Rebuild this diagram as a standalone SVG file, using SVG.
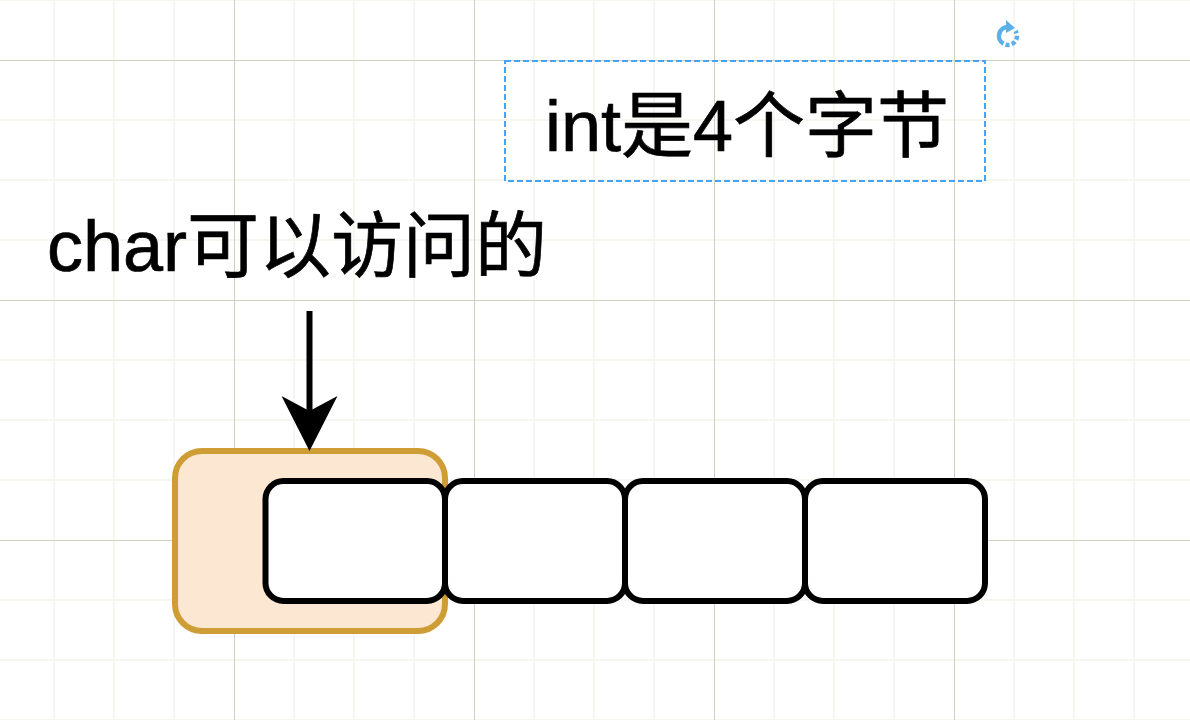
<svg xmlns="http://www.w3.org/2000/svg" width="1190" height="720" viewBox="0 0 1190 720">
<style>
.minor{stroke:#f6f6f1;stroke-width:2;fill:none}
.major{stroke:#d0d0bc;stroke-width:1;fill:none}
.cell{fill:#fff;stroke:#000;stroke-width:6}
.label{font-family:"Liberation Sans","Noto Sans CJK SC",sans-serif;font-size:72px;fill:#000;stroke:#000;stroke-width:.7px}
</style>
<defs>
<marker id="arrow" markerUnits="userSpaceOnUse" viewBox="0 0 56 56" refX="40" refY="28" markerWidth="56" markerHeight="56" orient="auto">
<path d="M0 0L55 28L0 56L15 28Z" fill="#000"/>
</marker>
</defs>
<rect width="1190" height="720" fill="#fff"/>
<g id="grid">
<path class="minor" d="M54 0V720M114 0V720M174 0V720M294 0V720M354 0V720M414 0V720M534 0V720M594 0V720M654 0V720M774 0V720M834 0V720M894 0V720M1014 0V720M1074 0V720M1134 0V720M0 0H1190M0 120H1190M0 180H1190M0 240H1190M0 360H1190M0 420H1190M0 480H1190M0 600H1190M0 660H1190M0 720H1190"/>
<path class="major" d="M234.500 0V720M474.500 0V720M714.500 0V720M954.500 0V720M0 60.500H1190M0 300.500H1190M0 540.500H1190"/>
</g>
<g id="highlight"><rect x="175" y="451" width="270" height="180" rx="27" fill="#fbe7d2" stroke="#cf9d36" stroke-width="6"/></g>
<g id="cell1"><rect class="cell" x="265.500" y="481" width="179.500" height="120" rx="18"/></g>
<g id="cell2"><rect class="cell" x="445" y="481" width="180" height="120" rx="18"/></g>
<g id="cell3"><rect class="cell" x="625" y="481" width="180" height="120" rx="18"/></g>
<g id="cell4"><rect class="cell" x="805" y="481" width="180" height="120" rx="18"/></g>
<g id="connectors"><path d="M309.500 311V436" fill="none" stroke="#000" stroke-width="6" marker-end="url(#arrow)"/></g>
<g id="char-label"><text class="label" x="47" y="271">char可以访问的</text></g>
<g id="int-label">
<rect x="505" y="61" width="480" height="120" fill="none" stroke="#44a5f8" stroke-width="2" stroke-dasharray="6 3"/>
<text class="label" x="545" y="151">int是4个字节</text>
</g>
<g id="rotate-handle">
<path d="M1008 27A9 9 0 0 0 1003.500 43.800" fill="none" stroke="#5cb0ea" stroke-width="4.500"/>
<path d="M1005.500 44.600A9 9 0 0 0 1015.500 31" fill="none" stroke="#5cb0ea" stroke-width="4.500" stroke-dasharray="4 2.300"/>
<path d="M1006 20L1015 28L1006 33Z" fill="#5cb0ea"/>
</g>
</svg>
